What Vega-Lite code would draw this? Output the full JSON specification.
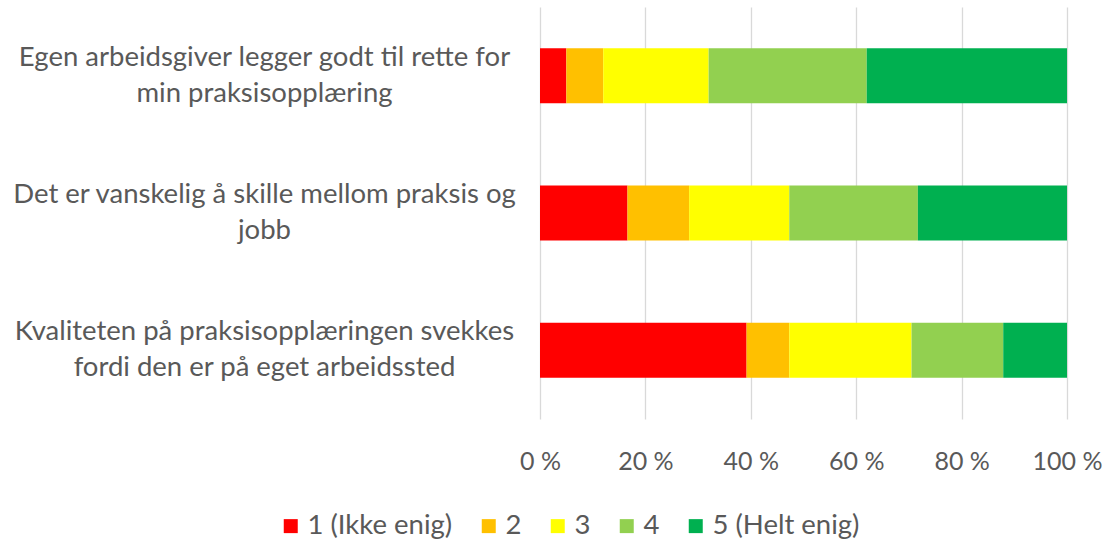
{
  "$schema": "https://vega.github.io/schema/vega-lite/v6.json",
  "width": 527,
  "height": 412,
  "autosize": {"type": "none"},
  "padding": {"left": 540, "top": 7, "right": 43, "bottom": 121},
  "background": "white",
  "config": {
    "view": {"stroke": null},
    "font": "Lato",
    "axis": {"labelFont": "Lato", "labelColor": "#595959"},
    "legend": {"labelFont": "Lato", "labelColor": "#595959"}
  },
  "data": {
    "values": [
      {"q": "Egen arbeidsgiver legger godt til rette for|min praksisopplæring", "k": "1 (Ikke enig)", "o": 1, "v": 5},
      {"q": "Egen arbeidsgiver legger godt til rette for|min praksisopplæring", "k": "2", "o": 2, "v": 7},
      {"q": "Egen arbeidsgiver legger godt til rette for|min praksisopplæring", "k": "3", "o": 3, "v": 20},
      {"q": "Egen arbeidsgiver legger godt til rette for|min praksisopplæring", "k": "4", "o": 4, "v": 30},
      {"q": "Egen arbeidsgiver legger godt til rette for|min praksisopplæring", "k": "5 (Helt enig)", "o": 5, "v": 38},
      {"q": "Det er vanskelig å skille mellom praksis og|jobb", "k": "1 (Ikke enig)", "o": 1, "v": 16.6},
      {"q": "Det er vanskelig å skille mellom praksis og|jobb", "k": "2", "o": 2, "v": 11.7},
      {"q": "Det er vanskelig å skille mellom praksis og|jobb", "k": "3", "o": 3, "v": 19.0},
      {"q": "Det er vanskelig å skille mellom praksis og|jobb", "k": "4", "o": 4, "v": 24.4},
      {"q": "Det er vanskelig å skille mellom praksis og|jobb", "k": "5 (Helt enig)", "o": 5, "v": 28.3},
      {"q": "Kvaliteten på praksisopplæringen svekkes|fordi den er på eget arbeidssted", "k": "1 (Ikke enig)", "o": 1, "v": 39.2},
      {"q": "Kvaliteten på praksisopplæringen svekkes|fordi den er på eget arbeidssted", "k": "2", "o": 2, "v": 8.1},
      {"q": "Kvaliteten på praksisopplæringen svekkes|fordi den er på eget arbeidssted", "k": "3", "o": 3, "v": 23.2},
      {"q": "Kvaliteten på praksisopplæringen svekkes|fordi den er på eget arbeidssted", "k": "4", "o": 4, "v": 17.4},
      {"q": "Kvaliteten på praksisopplæringen svekkes|fordi den er på eget arbeidssted", "k": "5 (Helt enig)", "o": 5, "v": 12.1}
    ]
  },
  "mark": {"type": "bar"},
  "encoding": {
    "y": {
      "field": "q",
      "type": "nominal",
      "sort": null,
      "scale": {"paddingInner": 0.6, "paddingOuter": 0.3},
      "axis": {
        "title": null,
        "domain": false,
        "ticks": false,
        "labelAlign": "center",
        "labelBaseline": "middle",
        "labelPadding": 276,
        "labelLimit": 700,
        "labelFontSize": 27.5,
        "labelLineHeight": 36,
        "labelOffset": -18,
        "labelExpr": "split(datum.label, '|')"
      }
    },
    "x": {
      "field": "v",
      "type": "quantitative",
      "stack": "normalize",
      "scale": {"domain": [0, 1]},
      "axis": {
        "title": null,
        "domain": false,
        "ticks": false,
        "values": [0, 0.2, 0.4, 0.6, 0.8, 1],
        "labelExpr": "round(datum.value*100) + ' %'",
        "labelFontSize": 25,
        "labelPadding": 30,
        "labelFlush": false,
        "gridColor": "#d9d9d9",
        "gridWidth": 1.3
      }
    },
    "color": {
      "field": "k",
      "type": "nominal",
      "scale": {
        "domain": ["1 (Ikke enig)", "2", "3", "4", "5 (Helt enig)"],
        "range": ["#FF0000", "#FFC000", "#FFFF00", "#92D050", "#00B050"]
      },
      "legend": {
        "title": null,
        "orient": "none",
        "direction": "horizontal",
        "legendX": -263,
        "legendY": 505,
        "padding": 0,
        "symbolType": "square",
        "symbolSize": 196,
        "symbolStrokeWidth": 0,
        "symbolOpacity": 1,
        "labelFontSize": 27.5,
        "labelOffset": 3,
        "columnPadding": 22
      }
    },
    "order": {"field": "o", "type": "quantitative"}
  }
}
